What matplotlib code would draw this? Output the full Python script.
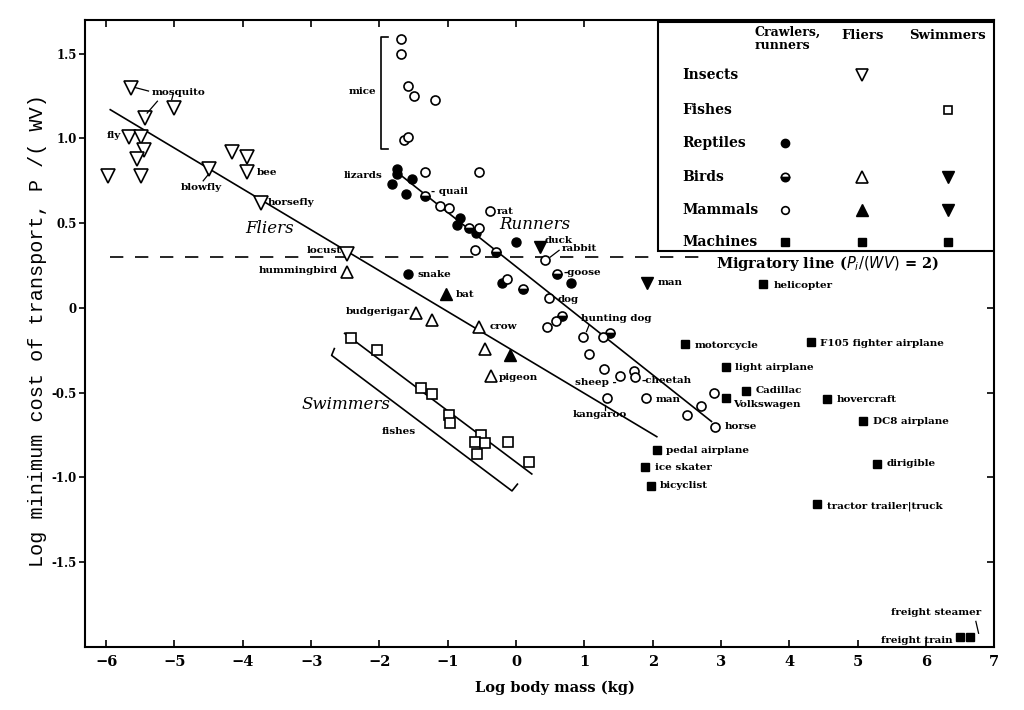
import matplotlib
matplotlib.use('Agg')
import matplotlib.pyplot as plt
from matplotlib.patches import Rectangle
import numpy as np

plt.rcParams['font.family'] = 'DejaVu Serif'

# ---- data (log10 body mass, log10 cost of transport) ----
insect_x = [-5.64, -5.43, -5.01, -5.66, -5.49, -5.45, -5.55, -5.97, -5.49,
            -4.50, -4.16, -3.94, -3.94, -3.74, -2.47]
insect_y = [1.30, 1.12, 1.18, 1.01, 1.01, 0.93, 0.88, 0.78, 0.78,
            0.82, 0.92, 0.89, 0.80, 0.62, 0.32]

fish_x = [-2.42, -2.04, -1.39, -1.23, -0.98, -0.96, -0.51, -0.60, -0.45, -0.57, -0.12, 0.19]
fish_y = [-0.18, -0.25, -0.47, -0.51, -0.63, -0.68, -0.75, -0.79, -0.80, -0.86, -0.79, -0.91]

reptile_x = [-1.74, -1.74, -1.81, -1.53, -1.61, -0.82, -0.86, -0.58, 0.00, -1.58, 0.80, -0.20]
reptile_y = [0.82, 0.79, 0.73, 0.76, 0.67, 0.53, 0.49, 0.44, 0.39, 0.20, 0.15, 0.15]

bird_run_x = [-1.33, -0.69, -0.29, 0.60, 0.10, 0.67, 1.37]
bird_run_y = [0.66, 0.47, 0.33, 0.20, 0.11, -0.05, -0.15]
bird_fly_x = [-2.47, -1.46, -1.23, -0.54, -0.45, -0.36]
bird_fly_y = [0.21, -0.03, -0.07, -0.11, -0.24, -0.40]
bird_swim_x = [0.35]
bird_swim_y = [0.36]

mice_x = [-1.69, -1.69, -1.58, -1.49, -1.18, -1.64, -1.58]
mice_y = [1.59, 1.50, 1.31, 1.25, 1.23, 0.99, 1.01]
mammal_run_x = mice_x + [-1.33, -0.55, -1.12, -0.98, -0.55, -0.60, -0.38, 0.42, -0.13,
                         0.48, 0.45, 0.58, 0.98, 1.27, 1.07, 1.28, 1.52, 1.72, 1.74,
                         1.33, 1.90, 2.50, 2.70, 2.89, 2.91]
mammal_run_y = mice_y + [0.80, 0.80, 0.60, 0.59, 0.47, 0.34, 0.57, 0.28, 0.17,
                         0.06, -0.11, -0.08, -0.17, -0.17, -0.27, -0.36, -0.40, -0.37, -0.41,
                         -0.53, -0.53, -0.63, -0.58, -0.50, -0.70]
mammal_fly_x = [-1.02, -0.09]
mammal_fly_y = [0.08, -0.28]
mammal_swim_x = [1.91]
mammal_swim_y = [0.15]

machine_x = [3.62, 2.47, 4.31, 3.07, 3.37, 3.07, 4.55, 5.08, 2.06, 1.88, 1.97,
             5.28, 4.41, 6.50, 6.65]
machine_y = [0.14, -0.21, -0.20, -0.35, -0.49, -0.53, -0.54, -0.67, -0.84, -0.94, -1.05,
             -0.92, -1.16, -1.94, -1.94]

# fitted lines and brackets
flier_line_x = [-5.94, 2.06]
flier_line_y = [1.17, -0.76]
runner_line_x = [-1.74, 2.86]
runner_line_y = [0.80, -0.67]
swimmer_line_x = [-2.51, 0.23]
swimmer_line_y = [-0.15, -0.98]
swim_bracket_x = [-2.66, -2.70, -0.06, 0.02]
swim_bracket_y = [-0.24, -0.28, -1.08, -1.04]
mice_bracket_x = [-1.88, -1.97, -1.97, -1.88]
mice_bracket_y = [1.60, 1.60, 0.94, 0.94]
migratory_x = [-5.94, 2.80]
migratory_level = np.log10(2)

# labels: text, x, y, horizontal alignment
labels = [
    ('mosquito', -5.33, 1.27, 'left'), ('fly', -5.78, 1.02, 'right'),
    ('blowfly', -4.60, 0.71, 'center'), ('bee', -3.80, 0.80, 'left'),
    ('horsefly', -3.64, 0.62, 'left'), ('locust', -2.55, 0.34, 'right'),
    ('hummingbird', -2.61, 0.22, 'right'), ('mice', -2.04, 1.28, 'right'),
    ('lizards', -1.96, 0.78, 'right'), ('- quail', -1.24, 0.69, 'left'),
    ('rat', -0.28, 0.57, 'left'), ('duck', 0.42, 0.40, 'left'),
    ('rabbit', 0.67, 0.35, 'left'), ('snake', -1.45, 0.20, 'left'),
    ('-goose', 0.70, 0.21, 'left'), ('bat', -0.88, 0.08, 'left'),
    ('man', 2.07, 0.15, 'left'), ('helicopter', 3.77, 0.13, 'left'),
    ('budgerigar', -1.55, -0.02, 'right'), ('crow', -0.39, -0.11, 'left'),
    ('dog', 0.61, 0.05, 'left'), ('hunting dog', 0.95, -0.06, 'left'),
    ('motorcycle', 2.61, -0.22, 'left'), ('F105 fighter airplane', 4.45, -0.21, 'left'),
    ('light airplane', 3.21, -0.35, 'left'), ('pigeon', -0.25, -0.41, 'left'),
    ('sheep -', 1.47, -0.44, 'right'), ('-cheetah', 1.84, -0.43, 'left'),
    ('man', 2.04, -0.54, 'left'), ('Cadillac', 3.50, -0.49, 'left'),
    ('Volkswagen', 3.18, -0.57, 'left'), ('hovercraft', 4.69, -0.54, 'left'),
    ('kangaroo', 1.23, -0.63, 'center'), ('horse', 3.05, -0.70, 'left'),
    ('DC8 airplane', 5.23, -0.67, 'left'), ('fishes', -1.97, -0.73, 'left'),
    ('pedal airplane', 2.20, -0.84, 'left'), ('ice skater', 2.03, -0.94, 'left'),
    ('dirigible', 5.43, -0.92, 'left'), ('bicyclist', 2.10, -1.05, 'left'),
    ('tractor trailer|truck', 4.55, -1.17, 'left'),
    ('freight steamer', 6.15, -1.80, 'center'), ('freight train', 6.39, -1.96, 'right'),
]
# leader lines: (x0, y0) -> (x1, y1)
leaders = [
    ((-5.57, 1.30), (-5.38, 1.28)), ((-5.40, 1.15), (-5.25, 1.22)),
    ((-5.04, 1.23), (-5.02, 1.26)), ((-4.58, 0.75), (-4.50, 0.79)),
    ((0.50, 0.30), (0.63, 0.34)), ((1.07, -0.10), (1.03, -0.14)),
    ((1.30, -0.57), (1.30, -0.60)), ((6.73, -1.85), (6.77, -1.92)),
]
group_titles = [('Fliers', -3.97, 0.47), ('Runners', -0.25, 0.49), ('Swimmers', -3.14, -0.57)]

fig = plt.figure(figsize=(10.24, 7.10), dpi=100)
ax = fig.add_axes([0.083, 0.089, 0.888, 0.883])
ax.set_xlim(-6.31, 7.0)
ax.set_ylim(-2.0, 1.70)

ink = 'black'
open_kw = dict(linestyle='none', mfc='white', mec=ink, mew=1.2)
ax.plot(insect_x, insect_y, marker='v', ms=9.5, **open_kw)
ax.plot(fish_x, fish_y, marker='s', ms=6.5, **open_kw)
ax.plot(reptile_x, reptile_y, 'o', ms=6.5, color=ink)
ax.plot(bird_run_x, bird_run_y, 'o', ms=6.5, fillstyle='bottom', mfc=ink,
        markerfacecoloralt='white', mec=ink, mew=1.2, linestyle='none')
ax.plot(bird_fly_x, bird_fly_y, marker='^', ms=9, **open_kw)
ax.plot(bird_swim_x, bird_swim_y, 'v', ms=9, color=ink)
ax.plot(mammal_run_x, mammal_run_y, marker='o', ms=6.5, **open_kw)
ax.plot(mammal_fly_x, mammal_fly_y, '^', ms=9, color=ink)
ax.plot(mammal_swim_x, mammal_swim_y, 'v', ms=9, color=ink)
ax.plot(machine_x, machine_y, 's', ms=5.5, color=ink)

line_kw = dict(color=ink, lw=1.2, zorder=1)
ax.plot(flier_line_x, flier_line_y, **line_kw)
ax.plot(runner_line_x, runner_line_y, **line_kw)
ax.plot(swimmer_line_x, swimmer_line_y, **line_kw)
ax.plot(swim_bracket_x, swim_bracket_y, **line_kw)
ax.plot(mice_bracket_x, mice_bracket_y, **line_kw)
ax.plot(migratory_x, [migratory_level] * 2, color=ink, lw=1.2, dashes=(8, 7), zorder=1)
ax.text(2.93, migratory_level - 0.04, r'Migratory line ($P_i/(WV)$ = 2)',
        fontsize=10.5, fontweight='bold', va='center', ha='left')

for txt, x, y, ha in labels:
    ax.text(x, y, txt, fontsize=7.5, fontweight='bold', ha=ha, va='center')
for (x0, y0), (x1, y1) in leaders:
    ax.plot([x0, x1], [y0, y1], color=ink, lw=0.9)
for txt, x, y in group_titles:
    ax.text(x, y, txt, fontsize=12, style='italic', ha='left', va='center')

# legend table drawn in the upper right corner
ax.add_patch(Rectangle((0.630, 0.632), 0.370, 0.365, transform=ax.transAxes,
                       fc='white', ec=ink, lw=1.5, zorder=3))
col_x = [0.770, 0.855, 0.949]
row_y = [0.912, 0.856, 0.804, 0.750, 0.697, 0.646]
row_names = ['Insects', 'Fishes', 'Reptiles', 'Birds', 'Mammals', 'Machines']
ax.text(0.736, 0.990, 'Crawlers,\nrunners', transform=ax.transAxes, fontsize=9,
        fontweight='bold', ha='left', va='top', linespacing=1.0, zorder=4)
ax.text(col_x[1], 0.975, 'Fliers', transform=ax.transAxes, fontsize=9.5,
        fontweight='bold', ha='center', va='center', zorder=4)
ax.text(col_x[2], 0.975, 'Swimmers', transform=ax.transAxes, fontsize=9.5,
        fontweight='bold', ha='center', va='center', zorder=4)
for name, y in zip(row_names, row_y):
    ax.text(0.657, y, name, transform=ax.transAxes, fontsize=10, fontweight='bold',
            ha='left', va='center', zorder=4)
legend_marks = [
    (0, 1, dict(marker='v', ms=9, mfc='white', mec=ink, mew=1.2)),
    (1, 2, dict(marker='s', ms=5.5, mfc='white', mec=ink, mew=1.2)),
    (2, 0, dict(marker='o', ms=6, color=ink)),
    (3, 0, dict(marker='o', ms=6, fillstyle='bottom', mfc=ink, markerfacecoloralt='white', mec=ink, mew=1.2)),
    (3, 1, dict(marker='^', ms=9, mfc='white', mec=ink, mew=1.2)),
    (3, 2, dict(marker='v', ms=9, color=ink)),
    (4, 0, dict(marker='o', ms=5.5, mfc='white', mec=ink, mew=1.2)),
    (4, 1, dict(marker='^', ms=9, color=ink)),
    (4, 2, dict(marker='v', ms=9, color=ink)),
    (5, 0, dict(marker='s', ms=5.5, color=ink)),
    (5, 1, dict(marker='s', ms=5.5, color=ink)),
    (5, 2, dict(marker='s', ms=5.5, color=ink)),
]
for r, c, kw in legend_marks:
    ax.plot([col_x[c]], [row_y[r]], transform=ax.transAxes, linestyle='none',
            zorder=4, clip_on=False, **kw)

# axes styling
for sp in ax.spines.values():
    sp.set_linewidth(1.5)
xt = list(range(-6, 8))
ax.set_xticks(xt)
ax.set_xticklabels([str(v).replace('-', '\u2212') for v in xt], fontsize=10.5, fontweight='bold')
yt = [-1.5, -1.0, -0.5, 0, 0.5, 1.0, 1.5]
ax.set_yticks(yt)
ax.set_yticklabels(['-1.5', '-1.0', '-0.5', '0', '0.5', '1.0', '1.5'], fontsize=8.5, fontweight='bold')
ax.tick_params(axis='x', direction='in', length=5, width=1.2, pad=6)
ax.tick_params(axis='y', direction='out', length=4, width=1.2, pad=2)

top = ax.secondary_xaxis('top')
top.set_xticks(list(range(-6, 2)))
top.set_xticklabels([])
top.tick_params(direction='in', length=5, width=1.2)
top.spines['top'].set_visible(False)
right = ax.secondary_yaxis('right')
right.set_yticks([-1.5, -1.0, -0.5, 0])
right.set_yticklabels([])
right.tick_params(direction='in', length=5, width=1.2)
right.spines['right'].set_visible(False)

ax.set_xlabel('Log body mass (kg)', fontsize=10.5, fontweight='bold')
ax.xaxis.set_label_coords(0.517, -0.054)
ax.set_ylabel('Log minimum cost of transport, P /( WV)', family='Liberation Mono', fontsize=14.5)
ax.yaxis.set_label_coords(-0.042, 0.504)

fig.savefig('out.png', dpi=100)
